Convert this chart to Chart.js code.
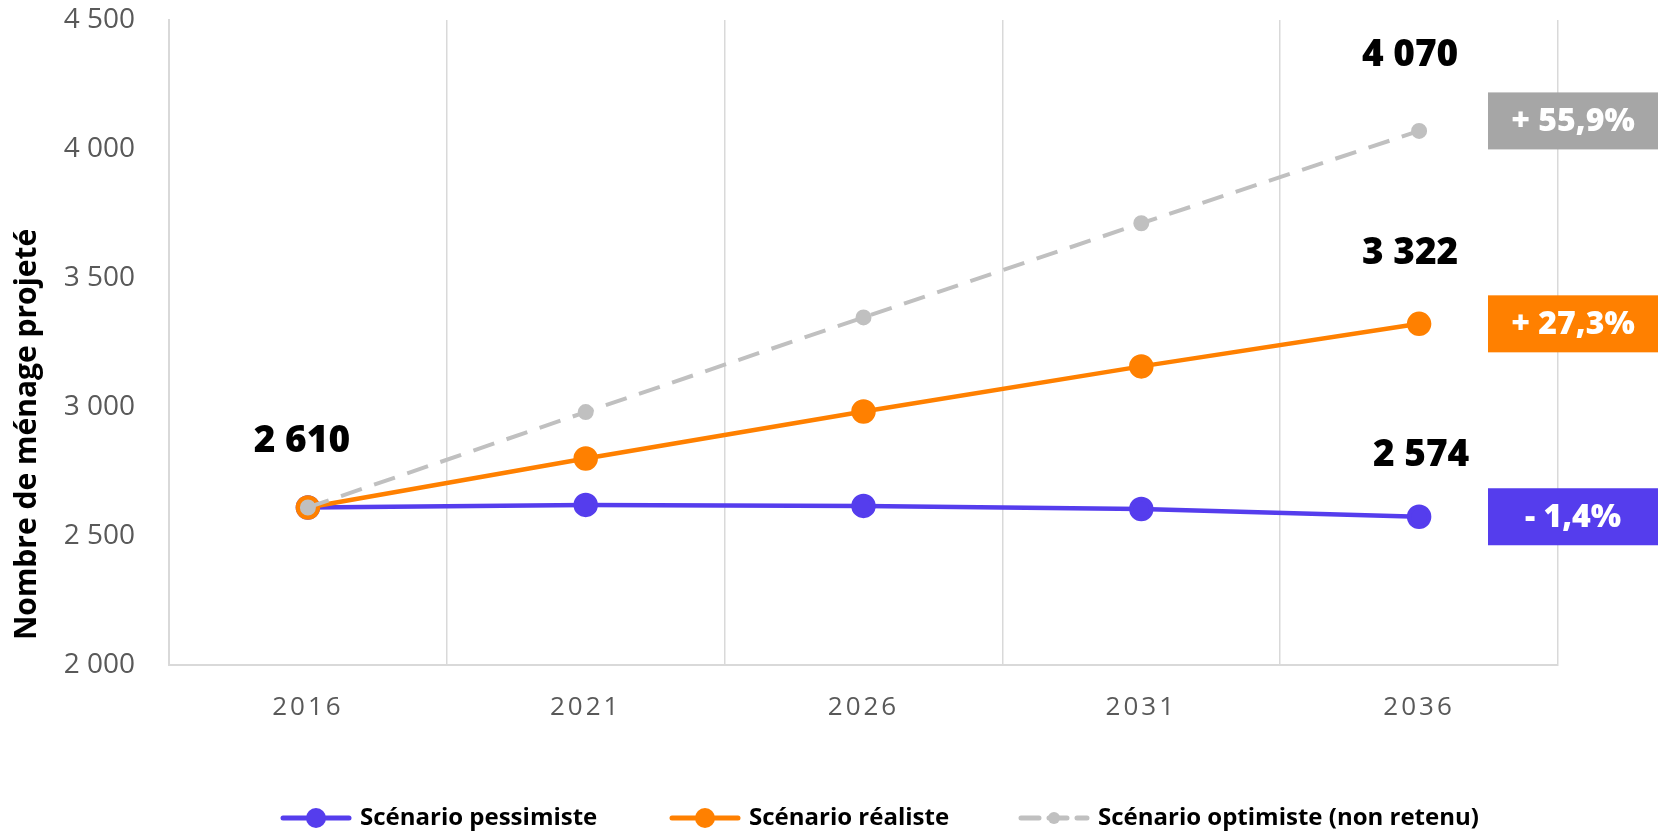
<!DOCTYPE html>
<html>
<head>
<meta charset="utf-8">
<script src="https://cdn.jsdelivr.net/npm/chart.js@4/dist/chart.umd.min.js"></script>
<style>
  html, body { margin: 0; padding: 0; background: #fff; }
  #wrap { width: 1658px; height: 833px; }
</style>
</head>
<body>
<div id="wrap"><canvas id="chart" width="1658" height="833"></canvas></div>
<script>
const years = ["2016", "2021", "2026", "2031", "2036"];
const pessimiste = [2610, 2620, 2616, 2604, 2574];
const realiste = [2610, 2800, 2982, 3157, 3322];
const optimiste = [2610, 2980, 3347, 3712, 4070];
const seriesNames = ["Scénario pessimiste", "Scénario réaliste", "Scénario optimiste (non retenu)"];
const changeLabels = ["- 1,4%", "+ 27,3%", "+ 55,9%"];
const yTicks = [2000, 2500, 3000, 3500, 4000, 4500];
const yTitle = "Nombre de ménage projeté";

const BLUE = "#553ded";
const ORANGE = "#ff8000";
const GREY = "#c0c0c0";
const BOX_GREY = "#a6a6a6";
const FONT = "'Open Sans', 'Noto Sans', sans-serif";

function fmt(v) {
  return String(v).replace(/\B(?=(\d{3})+(?!\d))/g, " ");
}

// spread the x labels a little, like the original
const spacedXLabels = {
  id: "spacedXLabels",
  beforeDraw(chart) {
    const s = chart.scales.x;
    if (s._spaced) return;
    const orig = s.drawLabels.bind(s);
    s.drawLabels = function (area) {
      chart.ctx.save();
      chart.ctx.letterSpacing = "3px";
      orig(area);
      chart.ctx.restore();
    };
    s._spaced = true;
  }
};

// y title sits a bit below the middle of the axis in the original
const axisTitle = {
  id: "axisTitle",
  afterDraw(chart) {
    const ctx = chart.ctx;
    const a = chart.chartArea;
    ctx.save();
    ctx.translate(27, (a.top + a.bottom) / 2 + 92);
    ctx.rotate(-Math.PI / 2);
    ctx.font = "bold 30px " + FONT;
    ctx.fillStyle = "#000";
    ctx.textAlign = "center";
    ctx.textBaseline = "middle";
    ctx.fillText(yTitle, 0, 0);
    ctx.restore();
  }
};

// value labels + change boxes on the right
const annotations = {
  id: "annotations",
  afterDatasetsDraw(chart) {
    const ctx = chart.ctx;
    const boxColors = [BLUE, ORANGE, BOX_GREY];
    const labelShift = [2, -9, -9];
    const labelLift = [61, 70, 75];
    const boxLift = [0, 0, 10];
    ctx.save();
    ctx.textAlign = "center";
    ctx.textBaseline = "middle";

    // first point label, shared by all series
    const first = chart.getDatasetMeta(0).data[0];
    ctx.font = "800 37px " + FONT;
    ctx.fillStyle = "#000";
    ctx.fillText(fmt(pessimiste[0]), first.x - 6, first.y - 66);

    chart.data.datasets.forEach((ds, i) => {
      const meta = chart.getDatasetMeta(i);
      const last = meta.data[meta.data.length - 1];
      const v = ds.data[ds.data.length - 1];
      ctx.font = "800 37px " + FONT;
      ctx.fillStyle = "#000";
      ctx.fillText(fmt(v), last.x + labelShift[i], last.y - labelLift[i]);

      const bx = chart.chartArea.right - 70;
      const bw = chart.width - bx;
      const bh = 57;
      const by = last.y - bh / 2 - boxLift[i];
      ctx.fillStyle = boxColors[i];
      ctx.fillRect(bx, by, bw, bh);
      ctx.fillStyle = "#fff";
      ctx.font = "800 32px " + FONT;
      ctx.fillText(changeLabels[i], bx + bw / 2, by + bh / 2 + 1);
    });
    ctx.restore();
  }
};

// legend at the bottom: line with marker + bold text
const bottomLegend = {
  id: "bottomLegend",
  afterDraw(chart) {
    const ctx = chart.ctx;
    const y = 818;
    const items = [
      { x: 283, color: BLUE, r: 10, dash: [] },
      { x: 672, color: ORANGE, r: 10, dash: [] },
      { x: 1021, color: GREY, r: 6, dash: [18, 10] }
    ];
    ctx.save();
    items.forEach((it, i) => {
      ctx.strokeStyle = it.color;
      ctx.lineWidth = 5;
      ctx.lineCap = "round";
      ctx.setLineDash(it.dash);
      ctx.beginPath();
      ctx.moveTo(it.x, y);
      ctx.lineTo(it.x + 66, y);
      ctx.stroke();
      ctx.setLineDash([]);
      ctx.fillStyle = it.color;
      ctx.beginPath();
      ctx.arc(it.x + 33, y, it.r, 0, Math.PI * 2);
      ctx.fill();
      ctx.fillStyle = "#000";
      ctx.font = "bold 24px " + FONT;
      ctx.textAlign = "left";
      ctx.textBaseline = "middle";
      ctx.fillText(seriesNames[i], it.x + 77, y);
    });
    ctx.restore();
  }
};

new Chart(document.getElementById("chart"), {
  type: "line",
  data: {
    labels: years,
    datasets: [
      {
        label: seriesNames[0],
        data: pessimiste,
        borderColor: BLUE,
        backgroundColor: BLUE,
        borderWidth: 4.5,
        pointRadius: 10,
        pointHoverRadius: 10,
        order: 2
      },
      {
        label: seriesNames[1],
        data: realiste,
        borderColor: ORANGE,
        backgroundColor: ORANGE,
        borderWidth: 4.5,
        pointRadius: 10,
        pointHoverRadius: 10,
        order: 1
      },
      {
        label: seriesNames[2],
        data: optimiste,
        borderColor: GREY,
        backgroundColor: GREY,
        borderWidth: 4,
        borderDash: [22, 13],
        pointRadius: 6,
        pointHoverRadius: 6,
        order: 0
      }
    ]
  },
  options: {
    responsive: false,
    animation: false,
    layout: { autoPadding: false, padding: { top: 20, right: 100, bottom: 83, left: 10 } },
    plugins: {
      legend: { display: false },
      tooltip: { enabled: false }
    },
    scales: {
      x: {
        offset: true,
        grid: { offset: true, color: "#d9d9d9", lineWidth: 1.5, drawTicks: false },
        border: { color: "#d9d9d9", width: 2 },
        ticks: {
          color: "#595959",
          font: { family: FONT, size: 26 },
          padding: 27
        }
      },
      y: {
        min: 2000,
        max: 4500,
        afterBuildTicks(scale) {
          scale.ticks = yTicks.map(v => ({ value: v }));
        },
        afterFit(scale) {
          scale.width = 159;
          scale.paddingTop = 0;
          scale.paddingBottom = 0;
        },
        grid: { display: false },
        border: { color: "#d9d9d9", width: 2 },
        ticks: {
          color: "#595959",
          font: { family: FONT, size: 28 },
          padding: 26,
          callback: v => fmt(v)
        }
      }
    }
  },
  plugins: [spacedXLabels, axisTitle, annotations, bottomLegend]
});
</script>
</body>
</html>
